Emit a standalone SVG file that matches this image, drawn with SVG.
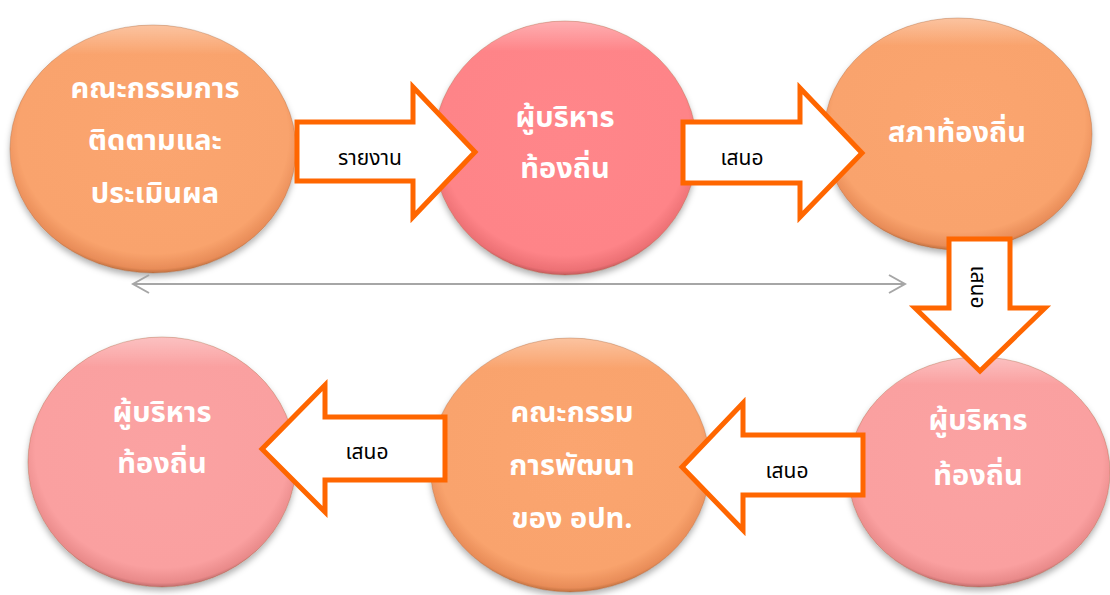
<svg xmlns="http://www.w3.org/2000/svg" width="1110" height="595" viewBox="0 0 1110 595">
  <defs>
    <radialGradient id="gOrange" cx="0.5" cy="0.45" r="0.55">
      <stop offset="0" stop-color="#FBA56F"/>
      <stop offset="0.86" stop-color="#F9A36D"/>
      <stop offset="0.97" stop-color="#E88C58"/>
      <stop offset="1" stop-color="#C0703F"/>
    </radialGradient>
    <radialGradient id="gPink" cx="0.5" cy="0.45" r="0.55">
      <stop offset="0" stop-color="#FF868A"/>
      <stop offset="0.86" stop-color="#FE8488"/>
      <stop offset="0.97" stop-color="#EC7074"/>
      <stop offset="1" stop-color="#C35A5C"/>
    </radialGradient>
    <radialGradient id="gLight" cx="0.5" cy="0.45" r="0.55">
      <stop offset="0" stop-color="#FBA2A2"/>
      <stop offset="0.86" stop-color="#FAA0A0"/>
      <stop offset="0.97" stop-color="#E98A8A"/>
      <stop offset="1" stop-color="#BF6C6C"/>
    </radialGradient>
    <linearGradient id="gShine" x1="0" y1="0" x2="0" y2="1">
      <stop offset="0" stop-color="#FFFFFF" stop-opacity="0.35"/>
      <stop offset="0.12" stop-color="#FFFFFF" stop-opacity="0"/>
      <stop offset="1" stop-color="#FFFFFF" stop-opacity="0"/>
    </linearGradient>
    <filter id="shadow" x="-10%" y="-10%" width="120%" height="125%">
      <feDropShadow dx="0" dy="4" stdDeviation="3" flood-color="#000000" flood-opacity="0.3"/>
    </filter>
    <marker id="chev" viewBox="0 0 20 20" refX="18" refY="10" markerWidth="20" markerHeight="20" markerUnits="userSpaceOnUse" orient="auto-start-reverse">
      <path d="M2,1 L18,10 L2,19" fill="none" stroke="#A6A6A6" stroke-width="2"/>
    </marker>
  </defs>
  <style>
    .circ { filter: url(#shadow); }
    .edge { fill: none; stroke: #A0603A; stroke-opacity: 0.35; stroke-width: 1; }
    .ctext { font-family: 'Noto Sans Thai', 'Noto Sans Thai UI', Tahoma, 'Leelawadee UI', 'DejaVu Sans', sans-serif; font-size: 29px; font-weight: bold; fill: #FFFFFF; text-anchor: middle; }
    .arrow { fill: #FFFFFF; stroke: #FF6600; stroke-width: 5; stroke-linejoin: miter; }
    .atext { font-family: 'Noto Sans Thai', 'Noto Sans Thai UI', Tahoma, 'Leelawadee UI', 'DejaVu Sans', sans-serif; font-size: 21px; fill: #000000; text-anchor: middle; }
  </style>

  <g id="nodes">
    <g id="n1">
      <ellipse class="circ" cx="153" cy="149" rx="143" ry="124" fill="url(#gOrange)"/>
      <ellipse cx="153" cy="149" rx="143" ry="124" fill="url(#gShine)"/>
      <ellipse class="edge" cx="153" cy="149" rx="143" ry="124"/>
      <text class="ctext" x="155" y="98">คณะกรรมการ</text>
      <text class="ctext" x="155" y="150">ติดตามและ</text>
      <text class="ctext" x="155" y="203">ประเมินผล</text>
    </g>
    <g id="n2">
      <ellipse class="circ" cx="565" cy="148" rx="132" ry="127" fill="url(#gPink)"/>
      <ellipse cx="565" cy="148" rx="132" ry="127" fill="url(#gShine)"/>
      <ellipse class="edge" cx="565" cy="148" rx="132" ry="127"/>
      <text class="ctext" x="565" y="127">ผู้บริหาร</text>
      <text class="ctext" x="565" y="178">ท้องถิ่น</text>
    </g>
    <g id="n3">
      <ellipse class="circ" cx="958" cy="134" rx="134" ry="116" fill="url(#gOrange)"/>
      <ellipse cx="958" cy="134" rx="134" ry="116" fill="url(#gShine)"/>
      <ellipse class="edge" cx="958" cy="134" rx="134" ry="116"/>
      <text class="ctext" x="957" y="142">สภาท้องถิ่น</text>
    </g>
    <g id="n4">
      <ellipse class="circ" cx="979" cy="472" rx="131" ry="115" fill="url(#gLight)"/>
      <ellipse cx="979" cy="472" rx="131" ry="115" fill="url(#gShine)"/>
      <ellipse class="edge" cx="979" cy="472" rx="131" ry="115"/>
      <text class="ctext" x="978" y="430">ผู้บริหาร</text>
      <text class="ctext" x="978" y="485">ท้องถิ่น</text>
    </g>
    <g id="n5">
      <ellipse class="circ" cx="570" cy="465" rx="140" ry="127" fill="url(#gOrange)"/>
      <ellipse cx="570" cy="465" rx="140" ry="127" fill="url(#gShine)"/>
      <ellipse class="edge" cx="570" cy="465" rx="140" ry="127"/>
      <text class="ctext" x="572" y="422">คณะกรรม</text>
      <text class="ctext" x="572" y="475">การพัฒนา</text>
      <text class="ctext" x="572" y="528">ของ อปท.</text>
    </g>
    <g id="n6">
      <ellipse class="circ" cx="162" cy="462" rx="134" ry="125" fill="url(#gLight)"/>
      <ellipse cx="162" cy="462" rx="134" ry="125" fill="url(#gShine)"/>
      <ellipse class="edge" cx="162" cy="462" rx="134" ry="125"/>
      <text class="ctext" x="162" y="422">ผู้บริหาร</text>
      <text class="ctext" x="162" y="473">ท้องถิ่น</text>
    </g>
  </g>

  <g id="connectors">
    <line x1="133" y1="284" x2="905" y2="284" stroke="#A6A6A6" stroke-width="2" marker-start="url(#chev)" marker-end="url(#chev)"/>
    <g id="c1">
      <path class="arrow" d="M297,122 L413,122 L413,87 L475,152 L413,217 L413,181 L297,181 Z"/>
      <text class="atext" x="370" y="165">รายงาน</text>
    </g>
    <g id="c2">
      <path class="arrow" d="M683,122 L800,122 L800,88 L862,153 L800,217 L800,183 L683,183 Z"/>
      <text class="atext" x="742" y="165">เสนอ</text>
    </g>
    <g id="c3">
      <path class="arrow" d="M949,239 L1010,239 L1010,308 L1045,308 L980,371 L915,308 L949,308 Z"/>
      <text class="atext" transform="translate(971,287) rotate(90)" x="0" y="0">เสนอ</text>
    </g>
    <g id="c4">
      <path class="arrow" d="M863,435 L743,435 L743,403 L682,467 L743,530 L743,495 L863,495 Z"/>
      <text class="atext" x="787" y="478">เสนอ</text>
    </g>
    <g id="c5">
      <path class="arrow" d="M445,417 L325,417 L325,385 L262,449 L325,512 L325,480 L445,480 Z"/>
      <text class="atext" x="367" y="459">เสนอ</text>
    </g>
  </g>
</svg>
